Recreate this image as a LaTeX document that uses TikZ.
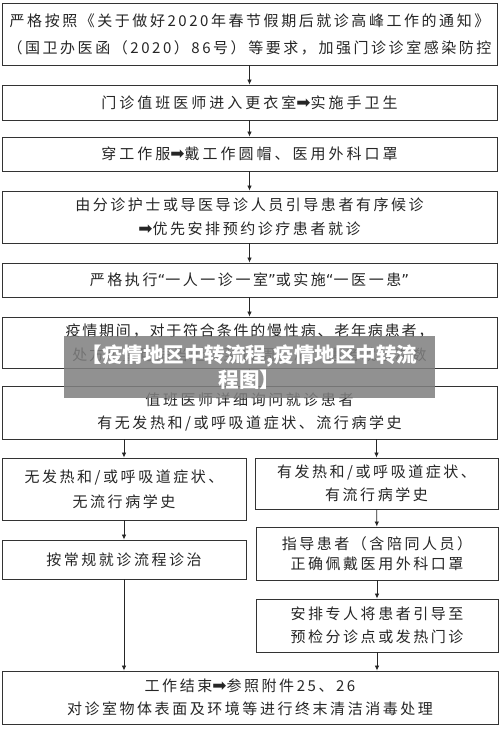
\documentclass[tikz,border=0pt]{standalone}
\usepackage{fontspec}
\usetikzlibrary{arrows.meta}
\setmainfont{Noto Sans CJK SC}
\newfontfamily\cjka[LetterSpace=17]{Noto Sans CJK SC}
\newfontfamily\cjkb[LetterSpace=12]{Noto Sans CJK SC}
\newfontfamily\cjkc[LetterSpace=20]{Noto Sans CJK SC}
\newfontfamily\cjkd[LetterSpace=17]{Noto Sans CJK SC}
\newfontfamily\symfont{DejaVu Sans}
\newcommand\blkarr{{\symfont\fontsize{17}{17}\selectfont ➡}}
\newcommand\myopenq{{\symfont “}}
\newcommand\mycloseq{{\symfont ”}}
\tikzset{
  box/.style={draw=black!80, line width=0.9pt, align=center, inner sep=0pt,
    text=black!85, font=\cjka\fontsize{15}{24}\selectfont},
  arr/.style={draw=black!85, line width=0.8pt, -{Latex[length=5pt,width=4.5pt]}},
}
\begin{document}
\begin{tikzpicture}[x=1pt,y=-1pt]
\useasboundingbox (0,0) rectangle (500,734);
\fill[white] (0,0) rectangle (500,734);
\node[box, minimum width=495pt, minimum height=62pt, font=\cjkd\fontsize{15}{27}\selectfont] (b1) at (249.5,34)
  {严格按照《关于做好2020年春节假期后就诊高峰工作的通知》\\（国卫办医函（2020）86号）等要求，加强门诊诊室感染防控};
\node[box, minimum width=495pt, minimum height=35pt, font=\cjkc\fontsize{15}{24}\selectfont] (b2) at (249.5,102.5)
  {门诊值班医师进入更衣室\blkarr 实施手卫生};
\node[box, minimum width=495pt, minimum height=34pt, font=\cjkc\fontsize{15}{24}\selectfont] (b3) at (249.5,154)
  {穿工作服\blkarr 戴工作圆帽、医用外科口罩};
\node[box, minimum width=495pt, minimum height=52pt] (b4) at (249.5,217)
  {由分诊护士或导医导诊人员引导患者有序候诊\\\blkarr 优先安排预约诊疗患者就诊};
\node[box, minimum width=495pt, minimum height=34pt] (b5) at (249.5,280)
  {严格执行\myopenq 一人一诊一室\mycloseq 或实施\myopenq 一医一患\mycloseq};
\node[box, minimum width=495pt, minimum height=51pt, font=\cjkb\fontsize{15}{24}\selectfont] (b6) at (249.5,342.5)
  {疫情期间，对于符合条件的慢性病、老年病患者，\\处方用量可适当延长至12周，减少患者就诊次数};
\node[box, minimum width=495pt, minimum height=53pt, font=\cjka\fontsize{15}{23}\selectfont] (b7) at (249.5,412.5)
  {值班医师详细询问就诊患者\\有无发热和/或呼吸道症状、流行病学史};
\node[box, minimum width=244pt, minimum height=62pt, font=\cjka\fontsize{15}{25}\selectfont] (b8l) at (124,489)
  {无发热和/或呼吸道症状、\\无流行病学史};
\node[box, minimum width=243pt, minimum height=51pt, font=\cjka\fontsize{15}{23}\selectfont] (b8r) at (376.5,483.5)
  {有发热和/或呼吸道症状、\\有流行病学史};
\node[box, minimum width=244pt, minimum height=39pt] (b9l) at (124,559.5)
  {按常规就诊流程诊治};
\node[box, minimum width=242pt, minimum height=53pt, font=\cjka\fontsize{15}{20}\selectfont] (b9r) at (377,553.5)
  {指导患者（含陪同人员）\\正确佩戴医用外科口罩};
\node[box, minimum width=242pt, minimum height=53pt, font=\cjka\fontsize{15}{23}\selectfont] (b10r) at (377,625.5)
  {安排专人将患者引导至\\预检分诊点或发热门诊};
\node[box, minimum width=496pt, minimum height=53pt, font=\cjka\fontsize{15}{23}\selectfont] (b11) at (250,697.5)
  {工作结束\blkarr 参照附件25、26\\对诊室物体表面及环境等进行终末清洁消毒处理};
\draw[arr] (b1) -- (b2);
\draw[arr] (b2) -- (b3);
\draw[arr] (b3) -- (b4);
\draw[arr] (b4) -- (b5);
\draw[arr] (b5) -- (b6);
\draw[arr] (b6) -- (b7);
\draw[arr] (b8l.north |- b7.south) -- (b8l.north);
\draw[arr] (b8r.north |- b7.south) -- (b8r.north);
\draw[arr] (b8l) -- (b9l);
\draw[arr] (b8r) -- (b9r);
\draw[arr] (b9r) -- (b10r);
\draw[arr] (b9l.south) -- (b9l.south |- b11.north);
\draw[arr] (b10r.south) -- (b10r.south |- b11.north);
\node[fill=black!50, fill opacity=0.86, text opacity=1, text=white, minimum width=371pt, minimum height=62pt,
  inner sep=0pt, align=center, font=\bfseries\fontsize{20.5}{25}\selectfont] (wm) at (249.5,367)
  {【疫情地区中转流程,疫情地区中转流\\程图】};
\end{tikzpicture}
\end{document}
